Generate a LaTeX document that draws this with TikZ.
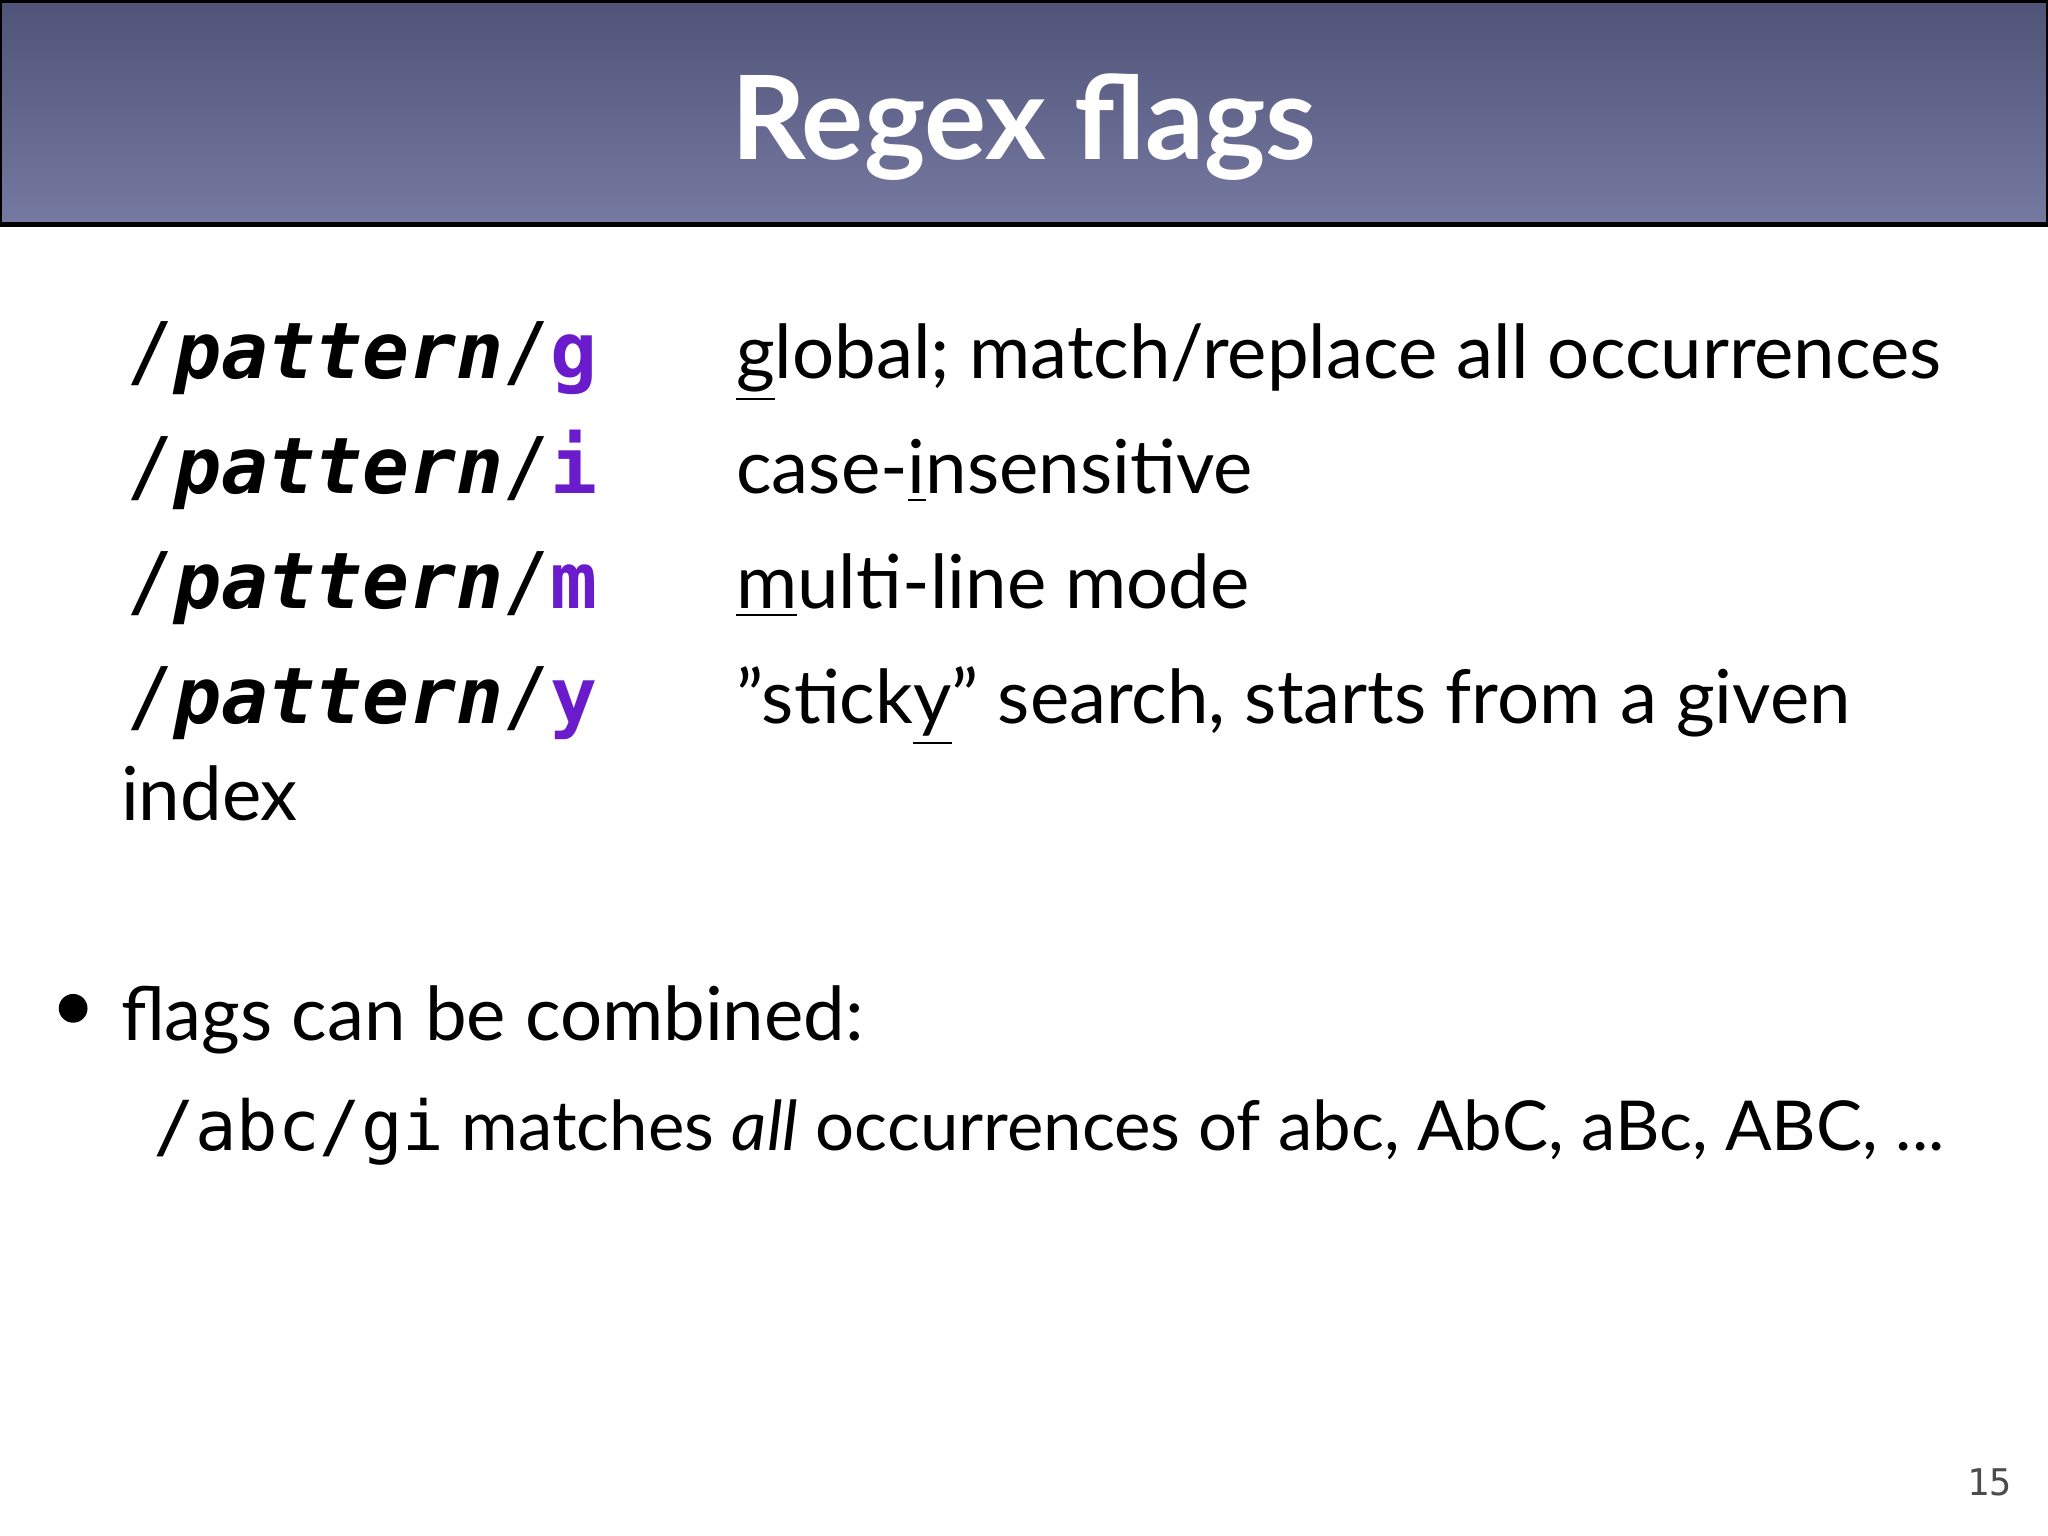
\documentclass[tikz,border=0pt]{standalone}
\usepackage{fontspec}
\setmainfont{Lato}
\setmonofont{DejaVu Sans Mono}
\definecolor{hdtop}{HTML}{4F5377}
\definecolor{hdbot}{HTML}{767AA2}
\definecolor{flag}{HTML}{6A1BCB}
\tikzset{
  txt/.style={anchor=base west,inner sep=0pt,font=\fontsize{16.2pt}{20pt}\selectfont},
  code/.style={anchor=base west,inner sep=0pt,font=\fontsize{17pt}{20pt}\selectfont\ttfamily\bfseries\itshape},
}
\newcommand{\fl}[1]{{\upshape\color{flag}#1}}
\newcommand{\myslash}{{\mdseries\upshape/}}
\newcommand{\qq}{\symbol{"22}}
\begin{document}
\begin{tikzpicture}[x=0.01cm,y=-0.01cm]
\useasboundingbox (0,0) rectangle (1568,1176);
\fill[white] (0,0) rectangle (1568,1176);
\shade[top color=hdtop,bottom color=hdbot] (0,0) rectangle (1568,172);
\draw[line width=1pt] (0,0.5) rectangle (1568,172);
\node[anchor=base,inner sep=0pt,text=white,font=\fontsize{25.3pt}{30pt}\selectfont\bfseries] (title) at (784,122) {Regex flags};
\node[code] (c1) at (97,290) {\myslash pattern\myslash\fl{g}};
\node[code] (c2) at (97,378) {\myslash pattern\myslash\fl{i}};
\node[code] (c3) at (97,466) {\myslash pattern\myslash\fl{m}};
\node[code] (c4) at (97,554) {\myslash pattern\myslash\fl{y}};
\node[txt] (d1) at (563,290) {\underline{g}lobal; match/replace all occurrences};
\node[txt] (d2) at (563,378) {case-\underline{i}nsensitive};
\node[txt] (d3) at (563,466) {\underline{m}ulti-line mode};
\node[txt] (d4) at (563,554) {\qq stick\underline{y}\qq{} search, starts from a given};
\node[txt] (d5) at (92,628) {index};
\fill (56,772) circle (11);
\node[txt] (b1) at (92,797) {flags can be combined:};
\node[txt,font=\fontsize{15pt}{18pt}\selectfont] (b2) at (117,881) {\texttt{/abc/gi} matches \textit{all} occurrences of abc, AbC, aBc, ABC, ...};
\node[anchor=base east,inner sep=0pt,font=\fontsize{8pt}{9pt}\selectfont\ttfamily,text=black!70] (pg) at (1541,1145) {15};
\end{tikzpicture}
\end{document}
